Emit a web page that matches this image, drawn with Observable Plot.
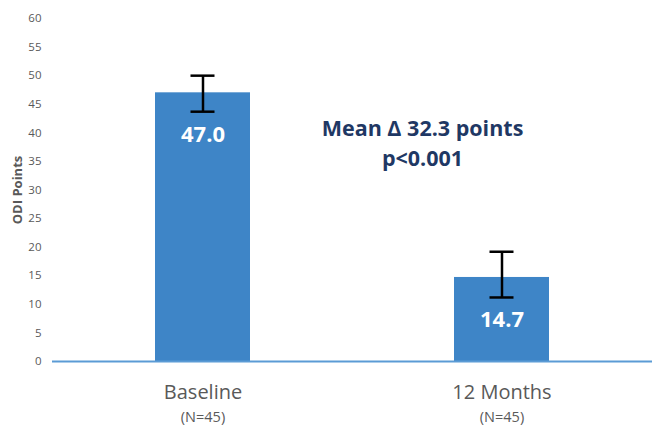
<!DOCTYPE html>
<html><head><meta charset="utf-8">
<script src="https://cdn.jsdelivr.net/npm/d3@7"></script>
<script src="https://cdn.jsdelivr.net/npm/@observablehq/plot@0.6"></script>
<style>body{margin:0;background:#fff;font-family:"Open Sans",sans-serif}</style>
</head><body><div id="chart"></div>
<script>
const categories = ["Baseline", "12 Months"];
const means = [47.0, 14.7];
const errLow = [43.7, 11.2];
const errHigh = [50.0, 19.2];
const nLabels = ["(N=45)", "(N=45)"];
const valueLabels = ["47.0", "14.7"];
const yTicks = [0,5,10,15,20,25,30,35,40,45,50,55,60];
const annotation = ["Mean Δ 32.3 points", "p<0.001"];
const yLabel = "ODI Points";

const data = categories.map((c, i) => ({cat: c, mean: means[i], lo: errLow[i], hi: errHigh[i], n: nLabels[i], label: valueLabels[i]}));

const font = "'Open Sans', sans-serif";
const chart = Plot.plot({
  width: 652, height: 425,
  marginLeft: 52, marginRight: 0, marginTop: 18, marginBottom: 64,
  style: {fontFamily: font, background: "#fff"},
  x: {domain: categories, paddingInner: 0.683, paddingOuter: 0.342, axis: null},
  y: {domain: [0, 60], ticks: yTicks, label: null},
  marks: [
    Plot.axisY({ticks: yTicks, tickSize: 0, tickPadding: 11, fontSize: 11.5, color: "#595959", label: null}),
    Plot.barY(data, {x: "cat", y: "mean", fill: "#3e85c7"}),
    Plot.ruleY([0], {stroke: "#5b9bd5", strokeWidth: 2}),
    Plot.ruleX(data, {x: "cat", y1: "lo", y2: "hi", stroke: "#000", strokeWidth: 2.5}),
    Plot.tickY(data, {x: "cat", y: "lo", stroke: "#000", strokeWidth: 2.5, insetLeft: 35.5, insetRight: 35.5}),
    Plot.tickY(data, {x: "cat", y: "hi", stroke: "#000", strokeWidth: 2.5, insetLeft: 35.5, insetRight: 35.5}),
    Plot.text(data, {x: "cat", y: "mean", text: "label", dy: 42, fill: "#fff", fontSize: 22, fontWeight: "bold"}),
    Plot.text(data, {x: "cat", y: () => 0, text: "cat", dy: 31, fill: "#595959", fontSize: 20}),
    Plot.text(data, {x: "cat", y: () => 0, text: "n", dy: 55.5, fill: "#595959", fontSize: 14.5}),
    Plot.text([annotation[0]], {frameAnchor: "top-left", dx: 370, dy: 102, text: d => d, fill: "#1f3864", fontSize: 21.5, fontWeight: "bold", textAnchor: "middle"}),
    Plot.text([annotation[1]], {frameAnchor: "top-left", dx: 370, dy: 132, text: d => d, fill: "#1f3864", fontSize: 21.5, fontWeight: "bold", textAnchor: "middle"}),
    Plot.text([yLabel], {frameAnchor: "left", dx: -35, text: d => d, rotate: -90, fill: "#595959", fontSize: 13, fontWeight: "bold", textAnchor: "middle"})
  ]
});
document.getElementById("chart").appendChild(chart);
</script></body></html>
